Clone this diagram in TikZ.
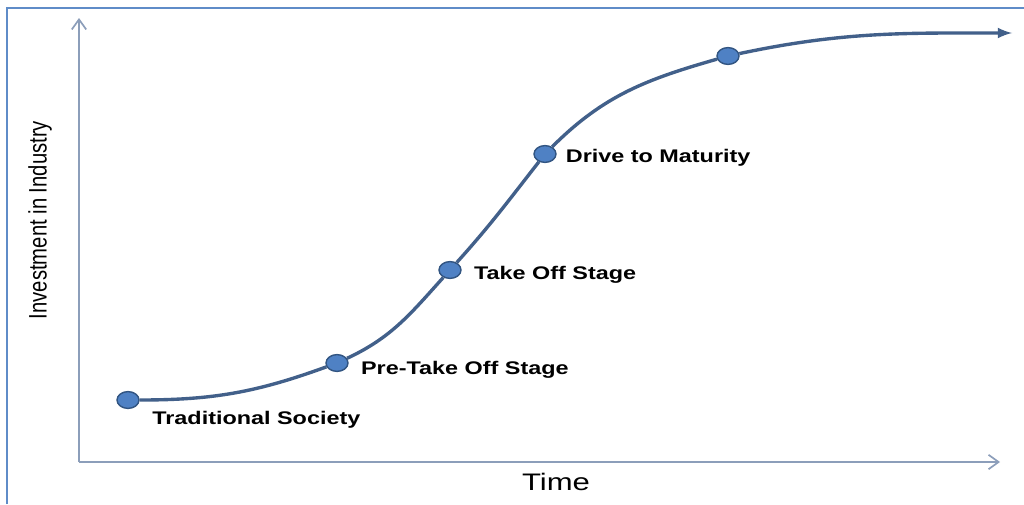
\documentclass[tikz,border=0pt]{standalone}
\usepackage{fontspec}
\setmainfont{Liberation Sans}
\usepackage{tikz}
\usetikzlibrary{arrows}
\usetikzlibrary{arrows.meta}
\usetikzlibrary{positioning}
\usetikzlibrary{shapes.geometric}
\definecolor{framebl}{RGB}{95,140,200}
\definecolor{axisgr}{RGB}{140,158,186}
\definecolor{curvebl}{RGB}{66,96,138}
\definecolor{dotfill}{RGB}{79,129,196}
\definecolor{dotline}{RGB}{50,85,130}
\tikzset{>=latex}
\tikzstyle{stage} = [ellipse, fill=dotfill, draw=dotline, line width=1pt, minimum width=0.55cm, minimum height=0.42cm, inner sep=0pt]
\tikzstyle{stagetext} = [inner sep=0pt, xscale=1.28, font=\fontsize{13}{15}\selectfont\bfseries]
\tikzstyle{axis} = [draw=axisgr, line width=1.2pt, -{Straight Barb[length=2.5mm, width=3.6mm]}]
\tikzstyle{scurve} = [draw=curvebl, line width=2.4pt]

\begin{document}
\begin{tikzpicture}
\useasboundingbox (0, 0) rectangle (25.6, 12.6);
\fill [white] (0, 0) rectangle (25.6, 12.6);
\draw [draw=framebl, line width=1.4pt] (0.175, 0) -- (0.175, 12.4) -- (25.6, 12.4);
\coordinate (O) at (1.975, 1.05);
\coordinate (ytop) at (1.975, 12.15);
\coordinate (xend) at (25.0, 1.05);
\draw [axis] (O) -- (ytop);
\draw [axis] (O) -- (xend);
\node [rotate=90, xscale=0.8, font=\fontsize{18}{20}\selectfont] (ylab) at (1.0, 7.1) {Investment in Industry};
\node [xscale=1.3, font=\fontsize{17}{20}\selectfont] (time) at (13.9, 0.55) {Time};
% stages
\node [stage] (trad) at (3.2, 2.6) {};
\node [stage] (pre) at (8.425, 3.525) {};
\node [stage] (take) at (11.25, 5.85) {};
\node [stage] (drive) at (13.625, 8.75) {};
\node [stage] (mass) at (18.2, 11.2) {};
\coordinate (cend) at (25.3, 11.775);
\draw [scurve] (trad) to [out=0, in=200] (pre);
\draw [scurve] (pre) to [out=25, in=228] (take);
\draw [scurve] (take) to [out=48, in=232] (drive);
\draw [scurve] (drive) to [out=45, in=196] (mass);
\draw [scurve, -latex] (mass) to [out=12, in=180] (cend);
\node [stagetext, anchor=west] (tradlab) at (3.8, 2.1) {Traditional Society};
\node [stagetext, right=0.3cm of pre, yshift=-0.17cm] (prelab) {Pre-Take Off Stage};
\node [stagetext, right=0.3cm of take, yshift=-0.12cm] (takelab) {Take Off Stage};
\node [stagetext, right=0.22cm of drive, yshift=-0.1cm] (drivelab) {Drive to Maturity};
\end{tikzpicture}
\end{document}
